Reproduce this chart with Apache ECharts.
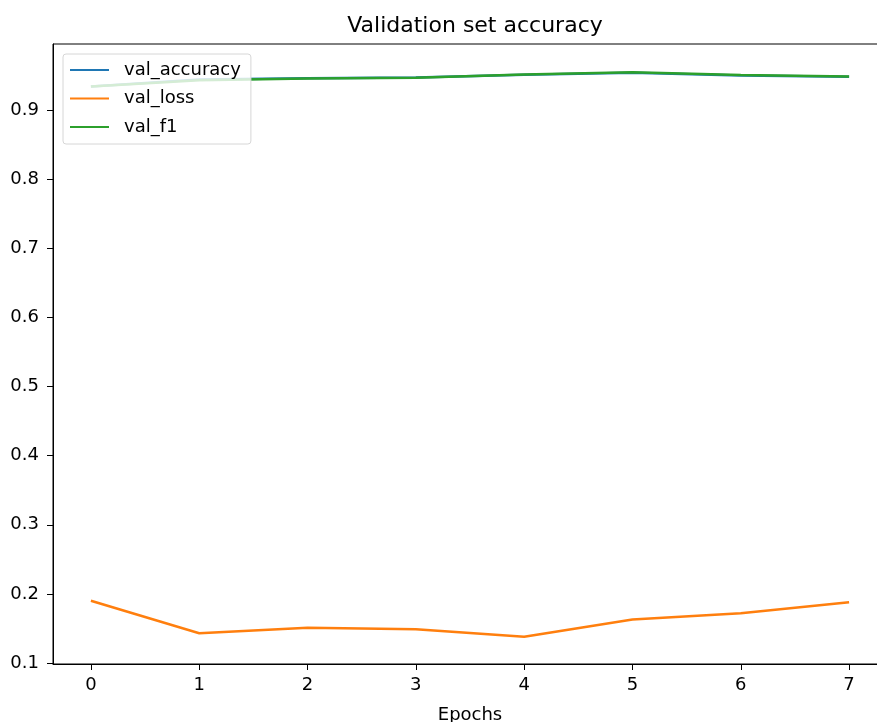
<!DOCTYPE html>
<html>
<head>
<meta charset="utf-8">
<script src="https://cdn.jsdelivr.net/npm/echarts@6/dist/echarts.min.js"></script>
<style>
  html, body { margin: 0; padding: 0; background: #fff; overflow: hidden; }
  #chart { width: 900px; height: 722px; }
</style>
</head>
<body>
<div id="chart"></div>
<script>
// values
const epochs = [0, 1, 2, 3, 4, 5, 6, 7];
const valAccuracy = [0.934, 0.944, 0.946, 0.947, 0.951, 0.954, 0.950, 0.948];
const valLoss = [0.190, 0.143, 0.151, 0.149, 0.138, 0.163, 0.172, 0.188];
const valF1 = [0.934, 0.943, 0.9455, 0.9465, 0.9515, 0.9545, 0.9505, 0.9485];
const yTicks = [0.1, 0.2, 0.3, 0.4, 0.5, 0.6, 0.7, 0.8, 0.9];

const font = 'DejaVu Sans';
const chart = echarts.init(document.getElementById('chart'));

const pair = vals => epochs.map((e, i) => [e, vals[i]]);
const makeSeries = (name, vals, color) => ({
  name: name,
  type: 'line',
  data: pair(vals),
  symbol: 'none',
  color: color,
  lineStyle: { width: 2.5, color: color },
  animation: false
});

const option = {
  animation: false,
  title: {
    text: 'Validation set accuracy',
    left: 470,
    textAlign: 'center',
    top: 10,
    textStyle: { fontFamily: font, fontSize: 22, fontWeight: 'normal', color: '#000' }
  },
  legend: {
    orient: 'vertical',
    left: 63,
    top: 54,
    padding: [7, 10, 8, 6],
    itemWidth: 39,
    itemHeight: 14,
    itemGap: 10.5,
    backgroundColor: 'rgba(255,255,255,0.8)',
    borderColor: '#d6d6d6',
    borderWidth: 1,
    borderRadius: 3,
    itemStyle: { opacity: 0 },
    textStyle: { fontFamily: font, fontSize: 18, lineHeight: 18, color: '#000', padding: [0, 0, 0, 10] },
    data: ['val_accuracy', 'val_loss', 'val_f1']
  },
  grid: {
    left: 53,
    right: 13,
    top: 44,
    bottom: 58,
    outerBoundsMode: 'none',
    show: true,
    borderColor: '#000',
    borderWidth: 1
  },
  xAxis: {
    type: 'value',
    min: -0.35,
    max: 7.35,
    name: 'Epochs',
    nameLocation: 'middle',
    nameGap: 42,
    nameTextStyle: { fontFamily: font, fontSize: 18, color: '#000' },
    axisLine: { show: true, onZero: false, lineStyle: { color: '#000', width: 1 } },
    axisTick: { show: true, length: 6, lineStyle: { color: '#000' }, customValues: epochs },
    axisLabel: { fontFamily: font, fontSize: 18, color: '#000', margin: 12, customValues: epochs },
    splitLine: { show: false }
  },
  yAxis: {
    type: 'value',
    min: 0.0986,
    max: 0.9955,
    axisLine: { show: true, onZero: false, lineStyle: { color: '#000', width: 1 } },
    axisTick: { show: true, length: 6, lineStyle: { color: '#000' }, customValues: yTicks },
    axisLabel: {
      fontFamily: font, fontSize: 18, color: '#000', margin: 14,
      customValues: yTicks,
      formatter: v => v.toFixed(1)
    },
    splitLine: { show: false }
  },
  series: [
    makeSeries('val_accuracy', valAccuracy, '#1f77b4'),
    makeSeries('val_loss', valLoss, '#ff7f0e'),
    makeSeries('val_f1', valF1, '#2ca02c')
  ]
};

chart.setOption(option);
</script>
</body>
</html>
